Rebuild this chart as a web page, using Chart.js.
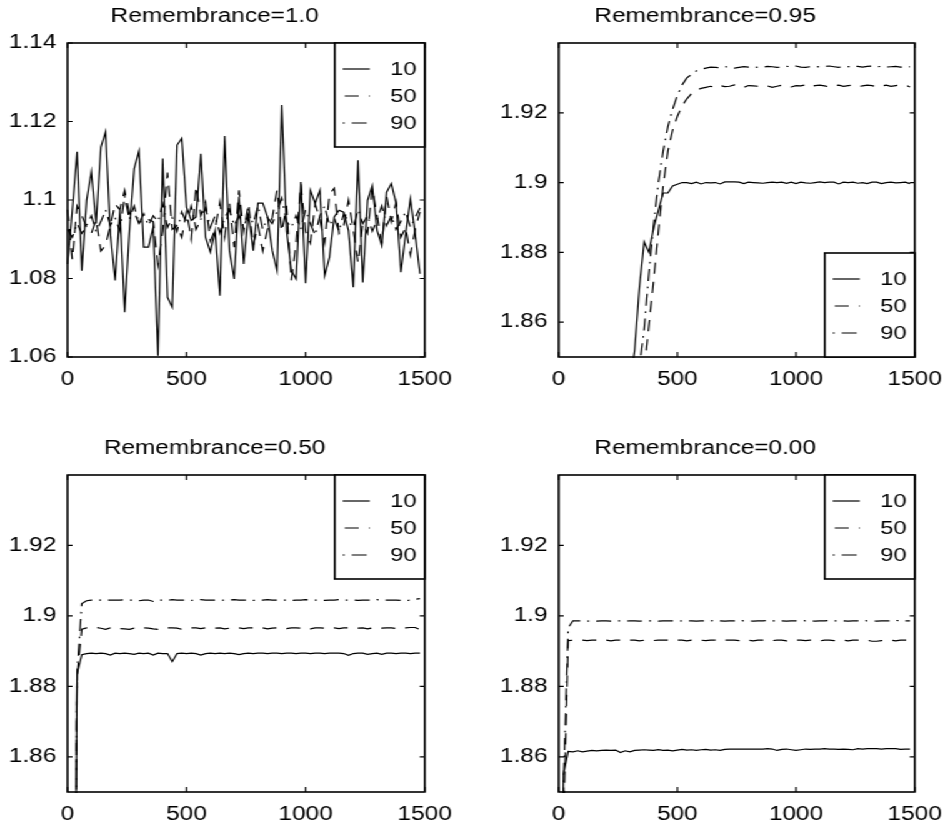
<!DOCTYPE html>
<html><head><meta charset="utf-8">
<script src="https://cdn.jsdelivr.net/npm/chart.js@4/dist/chart.umd.min.js"></script>
<style>
html,body{margin:0;padding:0;background:#fff;width:951px;height:826px;overflow:hidden}
#fig{position:absolute;left:0;top:0;height:826px;transform-origin:0 0}
#fig canvas{position:absolute}
</style></head><body><div id="fig"></div>
<script>
// ---------------- data ----------------
const iterations = [0,20,40,60,80,100,120,140,160,180,
 200,220,240,260,280,300,320,340,360,380,
 400,420,440,460,480,500,520,540,560,580,
 600,620,640,660,680,700,720,740,760,780,
 800,820,840,860,880,900,920,940,960,980,
 1000,1020,1040,1060,1080,1100,1120,1140,1160,1180,
 1200,1220,1240,1260,1280,1300,1320,1340,1360,1380,
 1400,1420,1440,1460,1480];

const seriesLabels = ['10','50','90'];
const panelTitles = ['Remembrance=1.0','Remembrance=0.95','Remembrance=0.50','Remembrance=0.00'];

const xTicks = [0,500,1000,1500];
const xTickLabels = ['0','500','1000','1500'];
const yTicksR100 = [1.06,1.08,1.10,1.12,1.14];
const yTickLabelsR100 = ['1.06','1.08','1.1','1.12','1.14'];
const yTicksOther = [1.86,1.88,1.90,1.92];
const yTickLabelsOther = ['1.86','1.88','1.9','1.92'];

// Remembrance = 1.0
const r100_p10 = [1.0837,1.0974,1.1123,1.0820,1.0999,1.1072,1.0940,1.1135,1.1174,1.0914,
 1.0795,1.0974,1.0714,1.0922,1.1080,1.1125,1.0880,1.0880,1.0931,1.0603,
 1.1106,1.0752,1.0727,1.1140,1.1157,1.0982,1.0948,1.0957,1.1118,1.0905,
 1.0867,1.0922,1.0756,1.1163,1.0871,1.0799,1.1008,1.0837,1.0965,1.0871,
 1.0992,1.0992,1.0957,1.0871,1.0820,1.1242,1.0922,1.0820,1.0799,1.1046,
 1.0788,1.1025,1.0991,1.1025,1.0807,1.0854,1.0957,1.0974,1.0969,1.0922,
 1.0778,1.1101,1.0790,1.0999,1.1037,1.0922,1.0884,1.1020,1.1042,1.0991,
 1.0816,1.0914,1.1003,1.0914,1.0812];
const r100_p50 = [1.0975,1.0848,1.0985,1.0960,1.0930,1.0915,1.0950,1.0870,1.0885,1.0935,
 1.0990,1.0975,1.1025,1.0965,1.0970,1.0940,1.0955,1.0950,1.0945,1.0835,
 1.0920,1.1070,1.0925,1.0935,1.0905,1.0970,1.0900,1.1035,1.0960,1.0995,
 1.0895,1.0925,1.0995,1.0905,1.0995,1.0880,1.1025,1.0920,1.0990,1.0885,
 1.0935,1.0870,1.0925,1.0955,1.1025,1.0920,1.0985,1.0795,1.0890,1.1040,
 1.0920,1.0890,1.0990,1.0950,1.0890,1.1015,1.1030,1.0915,1.0935,1.1000,
 1.0925,1.0840,1.0940,1.0915,1.1030,1.0960,1.0890,1.1010,1.0945,1.0995,
 1.0905,1.0930,1.0860,1.0925,1.0970];
const r100_p90 = [1.0925,1.0905,1.0940,1.0915,1.0935,1.0960,1.0920,1.0945,1.0975,1.0935,
 1.0955,1.0920,1.1010,1.0950,1.0985,1.0940,1.0965,1.0935,1.0960,1.0945,
 1.0990,1.0930,1.0955,1.0920,1.0970,1.0940,1.0985,1.0925,1.0950,1.0980,
 1.0930,1.0960,1.0915,1.0955,1.0975,1.0935,1.0960,1.0930,1.0965,1.0940,
 1.0985,1.0925,1.0955,1.0940,1.0970,1.1005,1.0945,1.0930,1.0960,1.0925,
 1.0975,1.0940,1.0910,1.0960,1.0985,1.0935,1.0955,1.0920,1.0965,1.0945,
 1.0930,1.0975,1.0940,1.0960,1.0920,1.0950,1.0985,1.0935,1.0960,1.0925,
 1.0945,1.0970,1.0930,1.0955,1.0980];

// Remembrance = 0.95
const r095_p10 = [1.620,1.660,1.690,1.715,1.740,1.760,1.775,1.790,1.800,1.810,
 1.818,1.825,1.830,1.834,1.838,1.842,1.852,1.870,1.883,1.880,
 1.887,1.892,1.897,1.897,1.899,1.8995,1.9000,1.9000,1.8997,1.9001,
 1.8996,1.9000,1.8999,1.9000,1.8996,1.9002,1.9002,1.9002,1.9001,1.8997,
 1.9001,1.9000,1.8999,1.8998,1.9000,1.9001,1.9000,1.9001,1.8998,1.9001,
 1.8997,1.9001,1.8999,1.8998,1.9000,1.9002,1.9000,1.9001,1.9001,1.8996,
 1.9001,1.9000,1.9001,1.8998,1.9000,1.8997,1.9001,1.9001,1.8997,1.9000,
 1.9001,1.8999,1.9000,1.9001,1.8997];
const r095_p50 = [1.600,1.640,1.670,1.700,1.720,1.740,1.755,1.770,1.780,1.790,
 1.800,1.808,1.815,1.820,1.826,1.830,1.835,1.840,1.846,1.859,
 1.872,1.886,1.899,1.909,1.915,1.919,1.922,1.924,1.9255,1.9265,
 1.9270,1.9273,1.9276,1.9272,1.9278,1.9275,1.9276,1.9280,1.9275,1.9273,
 1.9278,1.9277,1.9276,1.9279,1.9277,1.9273,1.9276,1.9279,1.9278,1.9274,
 1.9278,1.9277,1.9280,1.9275,1.9278,1.9279,1.9277,1.9274,1.9278,1.9279,
 1.9276,1.9278,1.9279,1.9275,1.9277,1.9279,1.9278,1.9274,1.9277,1.9279,
 1.9276,1.9278,1.9279,1.9280,1.9274];
const r095_p90 = [1.610,1.650,1.680,1.710,1.730,1.750,1.765,1.780,1.790,1.800,
 1.808,1.815,1.822,1.828,1.833,1.838,1.842,1.847,1.858,1.874,
 1.888,1.900,1.909,1.916,1.921,1.925,1.928,1.930,1.931,1.932,
 1.9325,1.9328,1.9331,1.9330,1.9329,1.9332,1.9331,1.9328,1.9330,1.9332,
 1.9331,1.9332,1.9330,1.9331,1.9333,1.9332,1.9330,1.9331,1.9333,1.9332,
 1.9334,1.9331,1.9330,1.9332,1.9333,1.9331,1.9333,1.9334,1.9332,1.9330,
 1.9333,1.9332,1.9334,1.9333,1.9331,1.9333,1.9334,1.9332,1.9333,1.9331,
 1.9332,1.9333,1.9331,1.9330,1.9332];

// Remembrance = 0.50
const r050_p10 = [1.600,1.700,1.8835,1.8890,1.8893,1.8894,1.8893,1.8894,1.8893,1.8889,
 1.8894,1.8893,1.8894,1.8893,1.8891,1.8894,1.8893,1.8894,1.8889,1.8894,
 1.8893,1.8893,1.8870,1.8893,1.8894,1.8893,1.8894,1.8893,1.8889,1.8893,
 1.8894,1.8893,1.8894,1.8893,1.8894,1.8893,1.8890,1.8893,1.8894,1.8893,
 1.8894,1.8894,1.8893,1.8894,1.8894,1.8893,1.8894,1.8894,1.8893,1.8894,
 1.8894,1.8893,1.8894,1.8894,1.8893,1.8894,1.8894,1.8894,1.8893,1.8888,
 1.8893,1.8894,1.8894,1.8891,1.8893,1.8894,1.8891,1.8894,1.8894,1.8893,
 1.8894,1.8894,1.8893,1.8894,1.8894];
const r050_p50 = [1.600,1.700,1.8830,1.8962,1.8966,1.8966,1.8967,1.8965,1.8962,1.8966,
 1.8966,1.8964,1.8963,1.8962,1.8965,1.8966,1.8966,1.8965,1.8963,1.8962,
 1.8965,1.8966,1.8966,1.8965,1.8962,1.8965,1.8966,1.8966,1.8964,1.8966,
 1.8966,1.8965,1.8966,1.8963,1.8965,1.8966,1.8966,1.8964,1.8966,1.8966,
 1.8965,1.8966,1.8963,1.8965,1.8966,1.8966,1.8964,1.8966,1.8966,1.8965,
 1.8966,1.8963,1.8966,1.8966,1.8965,1.8966,1.8966,1.8964,1.8966,1.8966,
 1.8966,1.8965,1.8966,1.8963,1.8966,1.8966,1.8965,1.8966,1.8966,1.8964,
 1.8966,1.8966,1.8967,1.8967,1.8961];
const r050_p90 = [1.600,1.700,1.8840,1.9035,1.9043,1.9045,1.9045,1.9045,1.9044,1.9045,
 1.9045,1.9045,1.9046,1.9045,1.9045,1.9043,1.9045,1.9045,1.9041,1.9045,
 1.9045,1.9044,1.9046,1.9045,1.9045,1.9045,1.9044,1.9045,1.9046,1.9045,
 1.9045,1.9045,1.9044,1.9045,1.9045,1.9046,1.9045,1.9045,1.9045,1.9044,
 1.9045,1.9045,1.9046,1.9045,1.9045,1.9045,1.9045,1.9044,1.9045,1.9045,
 1.9046,1.9045,1.9045,1.9045,1.9044,1.9045,1.9045,1.9046,1.9045,1.9045,
 1.9045,1.9044,1.9045,1.9045,1.9045,1.9046,1.9045,1.9045,1.9045,1.9045,
 1.9044,1.9043,1.9045,1.9047,1.9049];

// Remembrance = 0.00
const r000_p10 = [1.700,1.855,1.8615,1.8614,1.8617,1.8614,1.8616,1.8618,1.8617,1.8618,
 1.8619,1.8618,1.8619,1.8612,1.8617,1.8614,1.8618,1.8619,1.8620,1.8619,
 1.8618,1.8620,1.8618,1.8619,1.8617,1.8619,1.8621,1.8619,1.8620,1.8618,
 1.8620,1.8621,1.8619,1.8620,1.8618,1.8621,1.8622,1.8622,1.8622,1.8622,
 1.8622,1.8622,1.8622,1.8622,1.8623,1.8622,1.8618,1.8621,1.8622,1.8620,
 1.8618,1.8620,1.8622,1.8621,1.8622,1.8622,1.8623,1.8622,1.8622,1.8621,
 1.8622,1.8621,1.8620,1.8623,1.8622,1.8623,1.8623,1.8623,1.8622,1.8623,
 1.8623,1.8623,1.8621,1.8622,1.8622];
const r000_p50 = [1.700,1.840,1.8930,1.8931,1.8931,1.8931,1.8930,1.8931,1.8931,1.8930,
 1.8931,1.8929,1.8931,1.8931,1.8930,1.8931,1.8931,1.8929,1.8931,1.8931,
 1.8930,1.8931,1.8931,1.8931,1.8930,1.8931,1.8931,1.8929,1.8931,1.8931,
 1.8931,1.8930,1.8931,1.8931,1.8929,1.8931,1.8931,1.8931,1.8930,1.8931,
 1.8931,1.8929,1.8931,1.8931,1.8931,1.8930,1.8931,1.8931,1.8929,1.8931,
 1.8931,1.8931,1.8930,1.8931,1.8931,1.8929,1.8931,1.8931,1.8930,1.8931,
 1.8931,1.8929,1.8931,1.8931,1.8930,1.8931,1.8928,1.8928,1.8930,1.8931,
 1.8931,1.8929,1.8931,1.8931,1.8931];
const r000_p90 = [1.700,1.852,1.8966,1.8986,1.8986,1.8986,1.8985,1.8986,1.8985,1.8986,
 1.8986,1.8985,1.8986,1.8986,1.8985,1.8986,1.8986,1.8985,1.8986,1.8986,
 1.8986,1.8985,1.8986,1.8986,1.8986,1.8985,1.8986,1.8986,1.8986,1.8985,
 1.8986,1.8986,1.8986,1.8987,1.8986,1.8985,1.8986,1.8986,1.8987,1.8986,
 1.8986,1.8985,1.8986,1.8986,1.8987,1.8986,1.8986,1.8986,1.8985,1.8986,
 1.8986,1.8987,1.8986,1.8986,1.8985,1.8986,1.8986,1.8987,1.8986,1.8986,
 1.8986,1.8985,1.8986,1.8986,1.8987,1.8986,1.8986,1.8985,1.8986,1.8986,
 1.8986,1.8987,1.8986,1.8986,1.8986];

// ---------------- layout / style ----------------
const S = 1.25;                       // horizontal stretch of the original figure
const FONT = '"Liberation Sans", Arial, Helvetica, sans-serif';
const TICK_PX = 19.5, TITLE_PX = 19.5, LEG_PX = 19;
const colLeft = [67.5, 559], colRight = [427, 917];
const rowTop = [43, 475], rowBottom = [356.5, 792];
const YW = 52, TH = 43, XH = 40;
const TITLE_ABOVE = 26.5;
const DASHES = [[], [14/S, 10/S], [15/S, 7/S, 2/S, 7/S]];
const LEG_OFF = [0, 22/S, 22/S];
const LEG_W = 90, LEG_H = 104, LEG_ROWS = [26, 53, 80];
const TICK_LEN = 5;

const panels = [
  {title: panelTitles[0], row:0, col:0, series:[r100_p10, r100_p50, r100_p90], ymin:1.06, ymax:1.14, yt:yTicksR100, yl:yTickLabelsR100, legend:'top'},
  {title: panelTitles[1], row:0, col:1, series:[r095_p10, r095_p50, r095_p90], ymin:1.85, ymax:1.94, yt:yTicksOther, yl:yTickLabelsOther, legend:'bottom'},
  {title: panelTitles[2], row:1, col:0, series:[r050_p10, r050_p50, r050_p90], ymin:1.85, ymax:1.94, yt:yTicksOther, yl:yTickLabelsOther, legend:'top'},
  {title: panelTitles[3], row:1, col:1, series:[r000_p10, r000_p50, r000_p90], ymin:1.85, ymax:1.94, yt:yTicksOther, yl:yTickLabelsOther, legend:'top'}
];
panels.forEach(p => p.series.forEach((s,k) => { if (s.length !== iterations.length) throw new Error(p.title + ' series ' + k + ' has ' + s.length); }));

const framePlugin = {
  id: 'frame',
  afterDatasetsDraw(chart) {
    const {ctx, chartArea: a} = chart;
    const x = chart.scales.x, y = chart.scales.y;
    ctx.save();
    ctx.strokeStyle = '#000';
    ctx.lineWidth = 1.6;
    ctx.setLineDash([]);
    ctx.strokeRect(a.left, a.top, a.right - a.left, a.bottom - a.top);
    ctx.lineWidth = 1.2;
    ctx.beginPath();
    x.ticks.forEach(t => {
      const px = x.getPixelForValue(t.value);
      ctx.moveTo(px, a.bottom); ctx.lineTo(px, a.bottom - TICK_LEN);
      ctx.moveTo(px, a.top); ctx.lineTo(px, a.top + TICK_LEN);
    });
    y.ticks.forEach(t => {
      const py = y.getPixelForValue(t.value);
      ctx.moveTo(a.left, py); ctx.lineTo(a.left + TICK_LEN / S, py);
      ctx.moveTo(a.right, py); ctx.lineTo(a.right - TICK_LEN / S, py);
    });
    ctx.stroke();
    ctx.restore();
  }
};

const boxLegendPlugin = {
  id: 'boxLegend',
  afterDraw(chart, args, opts) {
    const {ctx, chartArea: a} = chart;
    const w = LEG_W / S, h = LEG_H;
    const left = a.right - w;
    const top = opts.place === 'bottom' ? a.bottom - h : a.top;
    ctx.save();
    ctx.fillStyle = '#fff';
    ctx.fillRect(left, top, w, h);
    ctx.strokeStyle = '#000';
    ctx.lineWidth = 1.6;
    ctx.strokeRect(left, top, w, h);
    chart.data.datasets.forEach((ds, k) => {
      const yy = top + LEG_ROWS[k];
      ctx.setLineDash(ds.borderDash || []);
      ctx.lineDashOffset = LEG_OFF[k];
      ctx.lineWidth = 1.2;
      ctx.beginPath();
      ctx.moveTo(left + 8 / S, yy);
      ctx.lineTo(left + 35 / S, yy);
      ctx.stroke();
      ctx.setLineDash([]);
      ctx.fillStyle = '#000';
      ctx.font = LEG_PX + 'px ' + FONT;
      ctx.textAlign = 'right';
      ctx.textBaseline = 'middle';
      ctx.fillText(ds.label, left + w - 8 / S, yy + 1);
    });
    ctx.restore();
  }
};

Chart.defaults.font.family = FONT;
Chart.defaults.color = '#000';

const fig = document.getElementById('fig');
fig.style.width = (951 / S) + 'px';
fig.style.transform = 'scaleX(' + S + ')';

panels.forEach(p => {
  const L = colLeft[p.col] / S, R = colRight[p.col] / S;
  const T = rowTop[p.row], B = rowBottom[p.row];
  const plotW = R - L;
  const cw = Math.ceil(YW + plotW + 30);
  const rp = cw - YW - plotW;
  const ch = Math.round(TH + (B - T) + XH);
  const c = document.createElement('canvas');
  c.width = cw; c.height = ch;
  c.style.left = (L - YW) + 'px';
  c.style.top = (T - TH) + 'px';
  c.style.width = cw + 'px';
  c.style.height = ch + 'px';
  fig.appendChild(c);
  const padTop = TH - TITLE_ABOVE - TITLE_PX * 0.6;
  const padBottom = TH - padTop - TITLE_PX * 1.2;
  new Chart(c, {
    type: 'line',
    data: {
      datasets: p.series.map((vals, k) => ({
        label: seriesLabels[k],
        data: iterations.map((it, i) => ({x: it, y: vals[i]})),
        borderColor: '#000',
        borderWidth: 1.2,
        borderDash: DASHES[k],
        pointRadius: 0,
        fill: false,
        tension: 0,
        clip: 1
      }))
    },
    options: {
      responsive: false,
      animation: false,
      devicePixelRatio: 1,
      events: [],
      layout: {padding: {left: 0, right: rp, top: 0, bottom: 0}},
      plugins: {
        legend: {display: false},
        tooltip: {enabled: false},
        title: {display: true, text: p.title, color: '#000',
                font: {family: FONT, size: TITLE_PX, weight: 'normal'},
                padding: {top: padTop, bottom: padBottom}},
        boxLegend: {place: p.legend}
      },
      scales: {
        x: {
          type: 'linear', min: 0, max: 1500,
          grid: {display: false, drawTicks: false},
          border: {display: false},
          afterBuildTicks: sc => { sc.ticks = xTicks.map(v => ({value: v})); },
          afterFit: sc => { sc.height = XH; },
          ticks: {
            color: '#000', font: {family: FONT, size: TICK_PX}, padding: 10.5,
            maxRotation: 0, autoSkip: false,
            callback: v => xTickLabels[xTicks.indexOf(v)]
          }
        },
        y: {
          type: 'linear', min: p.ymin, max: p.ymax,
          grid: {display: false, drawTicks: false},
          border: {display: false},
          afterBuildTicks: sc => { sc.ticks = p.yt.map(v => ({value: v})); },
          afterFit: sc => { sc.width = YW; },
          ticks: {
            color: '#000', font: {family: FONT, size: TICK_PX}, padding: 9,
            autoSkip: false,
            callback: v => p.yl[p.yt.findIndex(t => Math.abs(t - v) < 1e-9)]
          }
        }
      }
    },
    plugins: [framePlugin, boxLegendPlugin]
  });
});
</script>
</body></html>
